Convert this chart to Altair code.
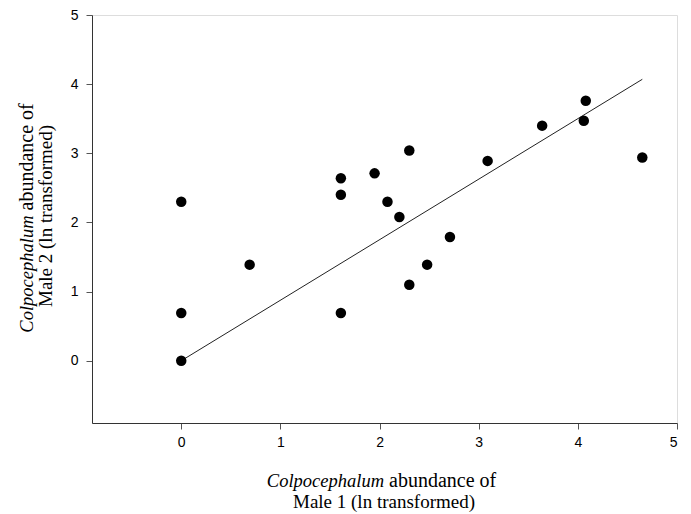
import altair as alt
import pandas as pd

# Data
male1 = [0.00, 0.00, 0.00, 0.69, 1.61, 1.61, 1.61, 1.95, 2.08, 2.20, 2.30, 2.30, 2.48, 2.71, 3.09, 3.64, 4.06, 4.08, 4.65]
male2 = [0.00, 0.69, 2.30, 1.39, 0.69, 2.40, 2.64, 2.71, 2.30, 2.08, 3.04, 1.10, 1.39, 1.79, 2.89, 3.40, 3.47, 3.76, 2.94]
fit_x = [0.00, 4.65]
fit_y = [0.00, 4.07]
ticks = [0, 1, 2, 3, 4, 5]

pts = pd.DataFrame({"m1": male1, "m2": male2})
fit = pd.DataFrame({"m1": fit_x, "m2": fit_y})

W, H = 585, 408
xs = alt.Scale(domain=[-0.9, 5], nice=False, zero=False)
ys = alt.Scale(domain=[-0.9, 5], nice=False, zero=False)

axis_common = dict(
    grid=False, domainColor="#333333", tickColor="#555555", tickSize=6,
    labelFont="Liberation Sans", labelFontSize=14, labelColor="black",
    values=ticks, title=None, domainWidth=1, tickWidth=1, format="d",
)

points = alt.Chart(pts).mark_circle(size=110, color="black", opacity=1).encode(
    x=alt.X("m1:Q", scale=xs, axis=alt.Axis(labelPadding=6, **axis_common)),
    y=alt.Y("m2:Q", scale=ys, axis=alt.Axis(labelPadding=8, **axis_common)),
)

line = alt.Chart(fit).mark_line(color="#222222", strokeWidth=1).encode(
    x=alt.X("m1:Q", scale=xs), y=alt.Y("m2:Q", scale=ys)
)

serif = "Liberation Serif"

def txt(text, x, y, align, italic=False, angle=0, fs=19):
    kw = dict(text=text, font=serif, fontSize=fs, align=align, baseline="middle", color="black")
    if italic:
        kw["fontStyle"] = "italic"
    if angle:
        kw["angle"] = angle
    return alt.Chart(pd.DataFrame({"a": [0]})).mark_text(**kw).encode(
        x=alt.value(x), y=alt.value(y)
    )

t1 = txt("Colpocephalum", 292, 466, "right", italic=True, fs=18.5)
t2 = txt("abundance of", 297, 466, "left", fs=20)
t3 = txt("Male 1 (ln transformed)", 292, 487, "center")

u1 = txt("Colpocephalum", -65, 200.5, "right", italic=True, angle=270, fs=18.5)
u2 = txt("abundance of", -65, 195.5, "left", angle=270, fs=20)
u3 = txt("Male 2 (ln transformed)", -46, 201, "center", angle=270)

chart = alt.layer(line, points, t1, t2, t3, u1, u2, u3).properties(
    width=W, height=H,
    autosize=alt.AutoSizeParams(type="none"),
    padding={"left": 92, "top": 15, "right": 14, "bottom": 91},
).configure_view(stroke=None).configure(background="white")

chart.save("out.html", embed_options={"renderer": "svg", "actions": False})
